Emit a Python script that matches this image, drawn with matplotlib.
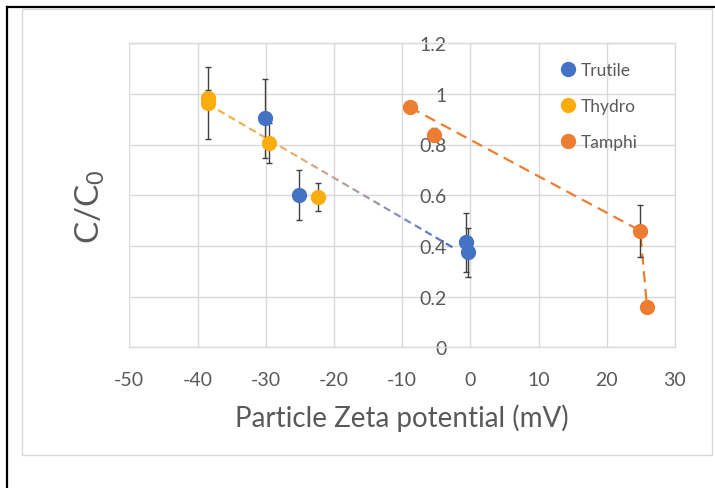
import matplotlib
matplotlib.use("Agg")
import matplotlib.pyplot as plt
import numpy as np
from matplotlib.lines import Line2D
from matplotlib.patches import Rectangle
from matplotlib.collections import LineCollection
from matplotlib.colors import LinearSegmentedColormap

plt.rcParams['font.family'] = ['Lato', 'DejaVu Sans']
plt.rcParams['mathtext.default'] = 'regular'
plt.rcParams['axes.unicode_minus'] = False

# ---- data ----
trutile_x = [-30.1, -25.1, -0.6, -0.3]
trutile_y = [0.903, 0.601, 0.414, 0.375]
trutile_err = [0.155, 0.10, 0.116, 0.097]

thydro_x = [-38.4, -38.4, -29.5, -22.3]
thydro_y = [0.982, 0.964, 0.806, 0.592]
thydro_err = [0.033, 0.141, 0.078, 0.056]

tamphi_x = [-8.9, -5.3, 24.9, 25.9]
tamphi_y = [0.947, 0.839, 0.46, 0.158]
tamphi_err = [0.0, 0.025, 0.103, 0.0]
tamphi_line_idx = [0, 2, 3]

trend_x = [-38.5, -2.2]
trend_y = [0.96, 0.388]

x_ticks = [-50, -40, -30, -20, -10, 0, 10, 20, 30]
y_ticks = [0, 0.2, 0.4, 0.6, 0.8, 1.0, 1.2]
y_tick_labels = ['0', '0.2', '0.4', '0.6', '0.8', '1', '1.2']

c_blue = '#4472C4'
c_yellow = '#FBAD0D'
c_orange = '#ED7D31'
txt = '#595959'
grid = '#D9D9D9'

W, H = 715, 489
fig = plt.figure(figsize=(W / 100, H / 100), dpi=100)

# outer frames
fig.add_artist(Rectangle((22 / W, 1 - 456 / H), (712 - 22) / W, (456 - 10) / H,
                         transform=fig.transFigure, fill=False, edgecolor=grid, lw=1.0))
fig.add_artist(Line2D([7 / W, 7 / W], [0, 1 - 8 / H], transform=fig.transFigure, color='black', lw=1.6))
fig.add_artist(Line2D([7 / W, 1], [1 - 8 / H, 1 - 8 / H], transform=fig.transFigure, color='black', lw=1.6))

L, R, T, B = 129.3, 675, 44.1, 348.3
ax = fig.add_axes([L / W, 1 - B / H, (R - L) / W, (B - T) / H])
ax.set_xlim(-50, 30)
ax.set_ylim(0, 1.2)
ax.set_xticks(x_ticks)
ax.set_yticks(y_ticks)
ax.set_yticklabels(y_tick_labels)
ax.grid(True, color=grid, lw=1.0)
ax.set_axisbelow(True)
for s in ['top', 'right', 'bottom']:
    ax.spines[s].set_color(grid)
    ax.spines[s].set_linewidth(1.0)
ax.spines['left'].set_position(('data', 0))
ax.spines['left'].set_visible(False)
ax.tick_params(axis='both', length=0, labelcolor=txt, labelsize=14)
ax.tick_params(axis='y', pad=17)
ax.tick_params(axis='x', pad=17)

# gradient dashed trend line
fig.canvas.draw()
p0 = ax.transData.transform((trend_x[0], trend_y[0]))
p1 = ax.transData.transform((trend_x[1], trend_y[1]))
length = np.hypot(*(p1 - p0))
dash, gap = 7.5, 4.5
segs, cols = [], []
cmap = LinearSegmentedColormap.from_list('g', [(0, '#F8B436'), (0.35, '#E3B07A'),
                                               (0.58, '#B59AA0'), (0.78, '#8690BE'), (1, c_blue)])
s = 0.0
inv = ax.transData.inverted()
while s < length:
    e = min(s + dash, length)
    a = p0 + (p1 - p0) * s / length
    b = p0 + (p1 - p0) * e / length
    segs.append(inv.transform([a, b]))
    cols.append(cmap((s + e) / 2 / length))
    s += dash + gap
ax.add_collection(LineCollection(segs, colors=cols, linewidths=1.6, zorder=2, capstyle='butt'))

# orange line
ax.plot([tamphi_x[i] for i in tamphi_line_idx], [tamphi_y[i] for i in tamphi_line_idx],
        color=c_orange, lw=1.6, ls=(0, (5, 3)), zorder=2)

ekw = dict(fmt='o', ms=10, ecolor='#404040', elinewidth=1.0, capsize=2.5, capthick=1.0, zorder=3)
ax.errorbar(trutile_x, trutile_y, yerr=trutile_err, color=c_blue, label='Trutile', **ekw)
ax.errorbar(thydro_x, thydro_y, yerr=thydro_err, color=c_yellow, label='Thydro', **ekw)
ax.errorbar(tamphi_x, tamphi_y, yerr=tamphi_err, color=c_orange, label='Tamphi', **ekw)

handles = [Line2D([], [], marker='o', ls='none', ms=10, color=c) for c in (c_blue, c_yellow, c_orange)]
leg = ax.legend(handles, ['Trutile', 'Thydro', 'Tamphi'], loc='upper left',
                bbox_to_anchor=((563 - L) / (R - L), 1 - (63 - T) / (B - T)),
                frameon=False, fontsize=12.5, labelcolor=txt, handlelength=0.6,
                handletextpad=0.45, labelspacing=1.15, borderpad=0, borderaxespad=0)

ax.set_xlabel('Particle Zeta potential (mV)', fontsize=20, color=txt, labelpad=11)
fig.text(90 / W, 1 - 207 / H, 'C/C$_0$', rotation=90, fontsize=24, color=txt,
         ha='center', va='center')

fig.savefig('out.png', dpi=100)
